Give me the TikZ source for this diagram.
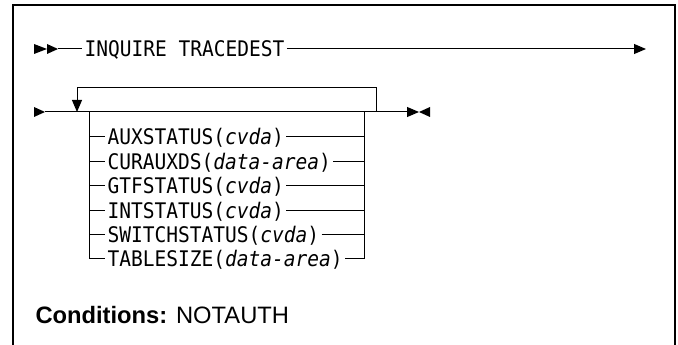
\documentclass[tikz,border=0pt]{standalone}
\usepackage{fontspec}
\setmainfont{Liberation Sans}
\newfontfamily\railfont[FakeStretch=0.91]{DejaVu Sans Mono}
\usetikzlibrary{arrows.meta}

\begin{document}
\begin{tikzpicture}[x=0.75pt, y=-0.75pt, line width=0.75pt,
        every node/.style={inner ysep=0pt, inner xsep=1.5pt, anchor=west,
                           text height=11.7pt, text depth=0pt,
                           font=\railfont\fontsize{16.1}{19}\selectfont},
        tip/.style={-{Triangle[length=9pt,width=7.5pt]}}]
      \useasboundingbox (0,0) rectangle (678,345);
      \draw[line width=1pt] (13,345) -- (13,5) -- (675,5) -- (675,345);
      % first line
      \fill (34,44) -- (47,49) -- (34,54) -- cycle;
      \fill (47,44) -- (58,49) -- (47,54) -- cycle;
      \coordinate (s1) at (58,49);
      \coordinate (e1) at (646,49);
      \node (inq) at (82,49) {INQUIRE TRACEDEST};
      \draw (s1) -- (inq.west);
      \draw[tip] (inq.east) -- (e1);
      % second line
      \fill (34,107) -- (45,112) -- (34,117) -- cycle;
      \coordinate (s2) at (45,112);
      \coordinate (e2) at (419,112);
      \coordinate (lj) at (77,112);
      \coordinate (rj) at (376,112);
      \coordinate (cl) at (89,112);
      \coordinate (cr) at (364,112);
      \draw[tip] (s2) -- (e2);
      \fill (430,107) -- (419,112) -- (430,117) -- cycle;
      \draw[tip] (rj) -- ++(0,-24) -| (lj);
      \node (auxs) at (105,137) {AUXSTATUS(\textit{cvda})};
      \node (cura) at (105,162) {CURAUXDS(\textit{data-area})};
      \node (gtfs) at (105,186) {GTFSTATUS(\textit{cvda})};
      \node (ints) at (105,211) {INTSTATUS(\textit{cvda})};
      \node (swit) at (105,235) {SWITCHSTATUS(\textit{cvda})};
      \node (tabl) at (105,259) {TABLESIZE(\textit{data-area})};
      \draw (cl) |- (tabl.west); \draw (tabl.east) -| (cr);
      \draw (cl |- auxs.west) -- (auxs.west); \draw (auxs.east) -- (cr |- auxs.east);
      \draw (cl |- cura.west) -- (cura.west); \draw (cura.east) -- (cr |- cura.east);
      \draw (cl |- gtfs.west) -- (gtfs.west); \draw (gtfs.east) -- (cr |- gtfs.east);
      \draw (cl |- ints.west) -- (ints.west); \draw (ints.east) -- (cr |- ints.east);
      \draw (cl |- swit.west) -- (swit.west); \draw (swit.east) -- (cr |- swit.east);
      % conditions
      \node[anchor=base west, inner sep=0pt, text height=, text depth=,
            font=\fontsize{17.8}{21}\selectfont] (cond) at (35,324)
            {\textbf{Conditions:} NOTAUTH};
    \end{tikzpicture}
\end{document}
